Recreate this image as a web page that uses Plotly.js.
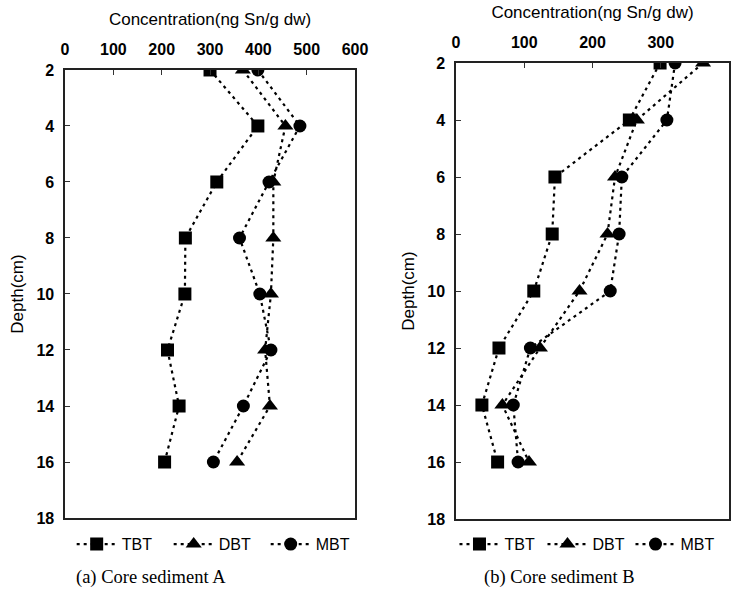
<!DOCTYPE html>
<html>
<head>
<meta charset="utf-8">
<script src="https://cdn.plot.ly/plotly-3.0.1.min.js"></script>
<style>body{margin:0;padding:0;background:#fff}#chart{width:739px;height:591px}</style>
</head>
<body>
<div id="chart"></div>
<script>
const depths = [2, 4, 6, 8, 10, 12, 14, 16];
const seriesNames = ["TBT", "DBT", "MBT"];
// Core sediment A (ng Sn/g dw)
const tbtA = [300, 399, 314, 249, 248, 212, 236, 206];
const dbtA = [368, 456, 431, 431, 426, 414, 424, 356];
const mbtA = [399, 486, 422, 361, 403, 426, 369, 307];
// Core sediment B (ng Sn/g dw)
const tbtB = [299, 254, 145, 141, 114, 63, 38, 61];
const dbtB = [362, 265, 233, 222, 181, 123, 68, 107];
const mbtB = [321, 309, 243, 239, 226, 109, 84, 91];
const xTicksA = [0, 100, 200, 300, 400, 500, 600];
const xTicksB = [0, 100, 200, 300, 400];
const yTicks = [2, 4, 6, 8, 10, 12, 14, 16, 18];
const captions = ["(a) Core sediment A", "(b) Core sediment B"];
const xTitle = "Concentration(ng Sn/g dw)";
const yTitle = "Depth(cm)";

const symbols = ["square", "triangle-up", "circle"];
const fontFam = "Liberation Sans, Arial, sans-serif";

function mk(x, i, ax, lg) {
  return {
    x: x, y: depths, type: "scatter", mode: "lines+markers",
    name: seriesNames[i], xaxis: ax.x, yaxis: ax.y, legend: lg,
    line: {color: "#000", width: 2.2, dash: "3px,4px"},
    marker: {symbol: symbols[i], size: i === 1 ? 14 : 13, color: "#000"}
  };
}
const A = {x: "x", y: "y"}, B = {x: "x2", y: "y2"};
const traces = [
  mk(tbtA, 0, A, "legend"), mk(dbtA, 1, A, "legend"), mk(mbtA, 2, A, "legend"),
  mk(tbtB, 0, B, "legend2"), mk(dbtB, 1, B, "legend2"), mk(mbtB, 2, B, "legend2")
];

function xa(dom, rng, ticks) {
  return {
    domain: dom, range: rng, side: "top", tickvals: ticks, ticktext: ticks.map(String),
    ticks: "inside", ticklen: 5, tickcolor: "#333", showline: true, mirror: true,
    linecolor: "#222", linewidth: 1.6, showgrid: false, zeroline: false,
    ticklabelstandoff: 7,
    tickfont: {family: fontFam, size: 16, color: "#000", weight: "bold"},
    title: {text: xTitle, font: {family: fontFam, size: 17, color: "#000"}, standoff: 11}
  };
}
function ya(dom) {
  return {
    domain: dom, range: [18, 2], tickvals: yTicks, ticktext: yTicks.map(String),
    ticks: "inside", ticklen: 5, tickcolor: "#333", showline: true, mirror: true,
    linecolor: "#222", linewidth: 1.6, showgrid: false, zeroline: false,
    ticklabelstandoff: 6,
    tickfont: {family: fontFam, size: 16, color: "#000", weight: "bold"},
    title: {text: yTitle, font: {family: fontFam, size: 17, color: "#000"}, standoff: 8}
  };
}

function lg(x, ew) {
  return {orientation: "h", x: x, y: 0.108, xanchor: "left", yanchor: "top",
    font: {family: fontFam, size: 16, color: "#000"}, itemwidth: 40,
    entrywidth: ew, entrywidthmode: "pixels", tracegroupgap: 0, bgcolor: "rgba(0,0,0,0)"};
}

const layout = {
  width: 739, height: 591, margin: {l: 0, r: 0, t: 0, b: 0, autoexpand: false},
  paper_bgcolor: "#fff", plot_bgcolor: "#fff", showlegend: true,
  xaxis: Object.assign(xa([0.088, 0.4804], [0, 600], xTicksA), {anchor: "y"}),
  yaxis: Object.assign(ya([0.1235, 0.8816]), {anchor: "x"}),
  xaxis2: Object.assign(xa([0.617, 0.9865], [0, 400], xTicksB), {anchor: "y2"}),
  yaxis2: Object.assign(ya([0.1218, 0.8934]), {anchor: "x2"}),
  legend: lg(0.097, 42),
  legend2: lg(0.615, 33),
  annotations: [
    {text: captions[0], xref: "paper", yref: "paper", x: 0.205, y: 0.022, xanchor: "center", yanchor: "middle",
     showarrow: false, font: {family: "Liberation Serif, Times New Roman, serif", size: 18.5, color: "#000"}},
    {text: captions[1], xref: "paper", yref: "paper", x: 0.757, y: 0.022, xanchor: "center", yanchor: "middle",
     showarrow: false, font: {family: "Liberation Serif, Times New Roman, serif", size: 18.5, color: "#000"}}
  ]
};

Plotly.newPlot("chart", traces, layout, {displayModeBar: false, staticPlot: true});
</script>
</body>
</html>
